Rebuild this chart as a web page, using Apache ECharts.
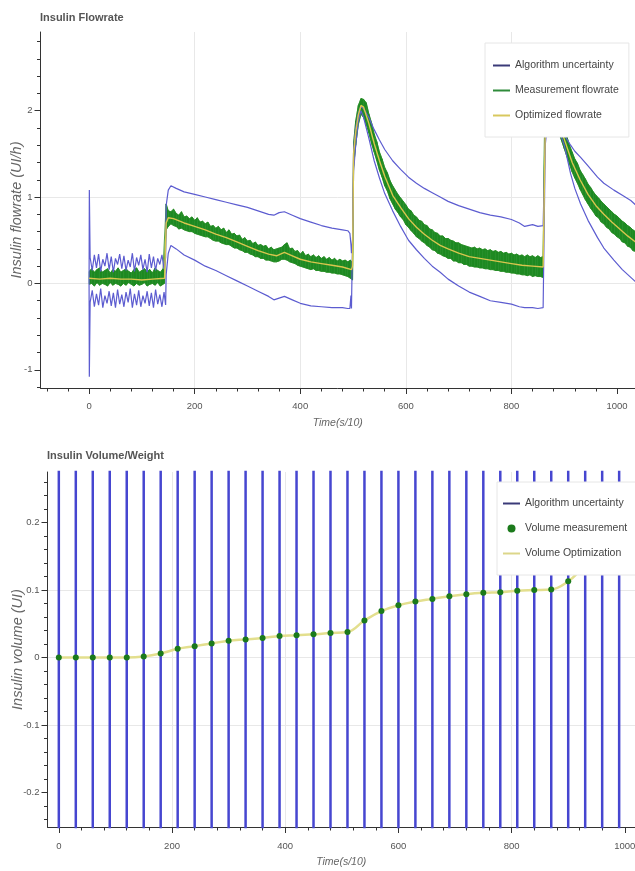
<!DOCTYPE html>
<html>
<head>
<meta charset="utf-8">
<title>Insulin Flowrate</title>
<script src="https://cdn.jsdelivr.net/npm/echarts@6.0.0/dist/echarts.min.js"></script>
<style>
  html, body { margin: 0; padding: 0; background: #fff; }
  #main { width: 635px; height: 871px; }
</style>
</head>
<body>
<div id="main"></div>
<script>
// ---- Insulin Flowrate (top) ----
// optimized flowrate
const optTime = [0, 20, 40, 60, 80, 100, 120, 143,
  146, 150, 160, 180, 200, 220, 240, 260, 280, 300, 320, 340, 355, 370, 385, 400, 420, 440, 460, 480, 497,
  499, 501, 505, 510, 515, 520, 530, 540, 550, 560, 575, 590, 605, 620, 635, 650, 665, 680, 700, 720, 740, 760, 780, 800, 820, 840, 860,
  862, 864, 868, 875, 880, 890, 900, 915, 930, 945, 960, 975, 990, 1005, 1020, 1035]
const optFlow = [0.06, 0.05, 0.06, 0.05, 0.05, 0.04, 0.05, 0.06,
  0.70, 0.76, 0.75, 0.70, 0.66, 0.62, 0.57, 0.53, 0.48, 0.43, 0.38, 0.34, 0.32, 0.36, 0.32, 0.28, 0.25, 0.23, 0.21, 0.19, 0.16,
  0.20, 1.50, 1.75, 1.95, 2.06, 2.04, 1.85, 1.62, 1.42, 1.24, 1.02, 0.88, 0.75, 0.65, 0.57, 0.50, 0.44, 0.40, 0.35, 0.31, 0.29, 0.27, 0.25, 0.23, 0.21, 0.20, 0.19,
  0.20, 1.80, 2.05, 2.10, 2.05, 1.85, 1.67, 1.40, 1.20, 1.03, 0.90, 0.80, 0.71, 0.63, 0.55, 0.48]

// algorithm uncertainty (upper / lower bound)
const uncTime = [0, 0.5,
  2, 6, 10, 14, 18, 22, 26, 30, 34, 38, 42, 46, 50, 54, 58, 62, 66, 70, 74, 78, 82, 86, 90, 94, 98, 102, 106, 110, 114, 118, 122, 126, 130, 134, 138, 142, 145,
  146, 150, 155, 165, 180, 200, 220, 240, 260, 280, 300, 320, 340, 350, 360, 370, 385, 400, 420, 440, 460, 480, 490, 494, 496, 497, 499,
  501, 505, 510, 515, 520, 530, 540, 550, 560, 575, 590, 605, 620, 635, 650, 665, 680, 700, 720, 740, 760, 780, 800, 815, 825, 840, 850, 860,
  862, 864, 870, 878, 890, 900, 912, 920, 931, 945, 963, 975, 994, 1010, 1026, 1035]
const uncUpper = [0.0, 1.08,
  0.30, 0.15, 0.33, 0.18, 0.34, 0.14, 0.28, 0.20, 0.35, 0.16, 0.31, 0.13, 0.29, 0.22, 0.34, 0.17, 0.32, 0.15, 0.27, 0.19, 0.35, 0.14, 0.30, 0.21, 0.33, 0.16, 0.28, 0.13, 0.34, 0.18, 0.31, 0.15, 0.29, 0.22, 0.33, 0.17, 0.30,
  0.90, 1.08, 1.13, 1.10, 1.06, 1.03, 1.00, 0.97, 0.94, 0.91, 0.88, 0.84, 0.80, 0.79, 0.82, 0.83, 0.79, 0.75, 0.71, 0.67, 0.64, 0.62, 0.61, 0.58, 0.45, 0.35, 0.50,
  1.55, 1.80, 1.97, 2.05, 2.02, 1.92, 1.78, 1.66, 1.55, 1.42, 1.32, 1.23, 1.16, 1.10, 1.05, 1.00, 0.95, 0.90, 0.86, 0.82, 0.79, 0.77, 0.74, 0.70, 0.66, 0.68, 0.66, 0.67,
  0.66, 1.70, 2.02, 2.06, 1.88, 1.72, 1.60, 1.53, 1.46, 1.36, 1.23, 1.16, 1.08, 1.02, 0.96, 0.91]
const uncLower = [0.0, -1.08,
  -0.22, -0.08, -0.27, -0.12, -0.25, -0.06, -0.28, -0.14, -0.23, -0.09, -0.26, -0.11, -0.28, -0.07, -0.24, -0.13, -0.27, -0.10, -0.22, -0.06, -0.28, -0.12, -0.25, -0.08, -0.27, -0.14, -0.23, -0.09, -0.26, -0.11, -0.28, -0.07, -0.24, -0.13, -0.27, -0.10, -0.25,
  0.10, 0.35, 0.44, 0.40, 0.33, 0.27, 0.20, 0.15, 0.09, 0.03, -0.03, -0.09, -0.15, -0.19, -0.17, -0.15, -0.19, -0.23, -0.26, -0.27, -0.28, -0.28, -0.29, -0.29, -0.14, -0.29, -0.30,
  1.30, 1.60, 1.88, 2.00, 1.92, 1.68, 1.42, 1.22, 1.04, 0.84, 0.66, 0.50, 0.39, 0.29, 0.20, 0.13, 0.05, -0.03, -0.10, -0.15, -0.20, -0.22, -0.24, -0.27, -0.28, -0.28, -0.29, -0.28,
  -0.28, 1.60, 1.98, 2.00, 1.78, 1.60, 1.27, 1.10, 0.92, 0.73, 0.53, 0.41, 0.27, 0.16, 0.07, 0.02]

// measurement flowrate, noisy band: lower and upper edge
const measTime = [0, 5, 10, 15, 20, 25, 30, 35, 40, 45, 50, 55, 60, 65, 70, 75, 80, 85, 90, 95, 100, 105, 110, 115, 120, 125, 130, 135, 140, 143,
  146, 150, 155, 160, 165, 170, 175, 180, 185, 190, 195, 200, 205, 210, 215, 220, 225, 230, 235, 240, 245, 250, 255, 260, 265, 270, 275, 280, 285, 290, 295,
  300, 305, 310, 315, 320, 325, 330, 335, 340, 345, 350, 355, 360, 365, 370, 375, 380, 385, 390, 395, 400, 405, 410, 415, 420, 425, 430, 435, 440, 445,
  450, 455, 460, 465, 470, 475, 480, 485, 490, 495, 499,
  501, 505, 510, 515, 520, 525, 530, 535, 540, 545, 550, 555, 560, 565, 570, 575, 580, 585, 590, 595, 600, 605, 610, 615, 620, 625, 630, 635, 640, 645, 650,
  655, 660, 665, 670, 675, 680, 685, 690, 695, 700, 705, 710, 715, 720, 725, 730, 735, 740, 745, 750, 755, 760, 765, 770, 775, 780, 785, 790, 795, 800,
  805, 810, 815, 820, 825, 830, 835, 840, 845, 850, 855, 860,
  863, 865, 870, 875, 880, 885, 890, 895, 900, 905, 910, 915, 920, 925, 930, 935, 940, 945, 950, 955, 960, 965, 970, 975, 980, 985, 990, 995, 1000,
  1005, 1010, 1015, 1020, 1025, 1030, 1035]
const measLow = [-0.01, 0.00, -0.03, 0.01, -0.02, 0.00, -0.01, -0.03, 0.01, -0.02, 0.00, -0.01, -0.03, 0.00, -0.02, 0.01, -0.01, -0.03, 0.00, -0.02, -0.01, 0.01, -0.03, -0.01, 0.00, -0.02, 0.01, -0.03, -0.01, 0.00,
  0.62, 0.66, 0.69, 0.67, 0.66, 0.63, 0.64, 0.62, 0.61, 0.60, 0.60, 0.58, 0.57, 0.56, 0.55, 0.54, 0.54, 0.52, 0.50, 0.49, 0.49, 0.47, 0.46, 0.45, 0.45, 0.43, 0.41, 0.41, 0.39, 0.38, 0.36,
  0.36, 0.34, 0.33, 0.31, 0.31, 0.29, 0.29, 0.27, 0.27, 0.26, 0.25, 0.25, 0.26, 0.28, 0.28, 0.27, 0.25, 0.24, 0.23, 0.21, 0.20, 0.19, 0.18, 0.17, 0.16, 0.17, 0.15, 0.15, 0.14, 0.14,
  0.13, 0.13, 0.12, 0.12, 0.11, 0.11, 0.10, 0.09, 0.08, 0.06, 0.04,
  1.35, 1.60, 1.84, 1.96, 1.92, 1.84, 1.74, 1.62, 1.52, 1.42, 1.31, 1.23, 1.13, 1.07, 0.98, 0.92, 0.86, 0.82, 0.77, 0.74, 0.68, 0.65, 0.61, 0.58, 0.54, 0.52, 0.49, 0.47, 0.44, 0.42, 0.39,
  0.38, 0.35, 0.34, 0.32, 0.31, 0.29, 0.29, 0.26, 0.26, 0.24, 0.24, 0.22, 0.22, 0.20, 0.20, 0.19, 0.19, 0.18, 0.18, 0.17, 0.17, 0.16, 0.16, 0.15, 0.15, 0.14, 0.14, 0.13, 0.13, 0.12,
  0.12, 0.11, 0.11, 0.10, 0.10, 0.09, 0.10, 0.08, 0.09, 0.08, 0.08, 0.07,
  1.70, 1.82, 1.96, 1.98, 1.94, 1.84, 1.74, 1.65, 1.56, 1.47, 1.38, 1.29, 1.22, 1.16, 1.09, 1.03, 0.97, 0.92, 0.87, 0.83, 0.78, 0.76, 0.71, 0.69, 0.65, 0.63, 0.59, 0.57, 0.54,
  0.52, 0.48, 0.47, 0.43, 0.42, 0.38, 0.37]
const measHigh = [0.14, 0.17, 0.13, 0.16, 0.18, 0.13, 0.15, 0.17, 0.12, 0.16, 0.14, 0.18, 0.13, 0.15, 0.17, 0.14, 0.12, 0.16, 0.18, 0.13, 0.15, 0.17, 0.14, 0.16, 0.12, 0.18, 0.15, 0.13, 0.17, 0.15,
  0.92, 0.84, 0.83, 0.86, 0.81, 0.79, 0.83, 0.77, 0.78, 0.75, 0.77, 0.73, 0.76, 0.71, 0.72, 0.69, 0.71, 0.66, 0.67, 0.64, 0.66, 0.62, 0.64, 0.59, 0.62, 0.57, 0.58, 0.55, 0.56, 0.51, 0.53,
  0.49, 0.50, 0.46, 0.48, 0.44, 0.45, 0.43, 0.44, 0.40, 0.42, 0.39, 0.40, 0.41, 0.42, 0.45, 0.47, 0.40, 0.41, 0.37, 0.38, 0.34, 0.37, 0.32, 0.34, 0.31, 0.33, 0.30, 0.32, 0.29, 0.31,
  0.28, 0.30, 0.27, 0.29, 0.26, 0.28, 0.26, 0.27, 0.25, 0.27, 0.24,
  1.62, 1.88, 2.06, 2.14, 2.13, 2.09, 1.96, 1.86, 1.73, 1.64, 1.52, 1.44, 1.34, 1.28, 1.19, 1.13, 1.08, 1.03, 0.99, 0.95, 0.91, 0.86, 0.84, 0.79, 0.77, 0.73, 0.72, 0.68, 0.67, 0.63, 0.62,
  0.59, 0.58, 0.55, 0.55, 0.52, 0.52, 0.50, 0.49, 0.47, 0.47, 0.45, 0.44, 0.43, 0.42, 0.41, 0.42, 0.40, 0.41, 0.39, 0.40, 0.38, 0.39, 0.37, 0.38, 0.36, 0.37, 0.35, 0.36, 0.34, 0.35,
  0.33, 0.34, 0.32, 0.33, 0.31, 0.33, 0.31, 0.32, 0.30, 0.32, 0.30, 0.31,
  1.98, 2.05, 2.18, 2.20, 2.16, 2.06, 1.96, 1.88, 1.78, 1.70, 1.60, 1.52, 1.44, 1.39, 1.31, 1.26, 1.21, 1.15, 1.11, 1.06, 1.02, 0.99, 0.95, 0.92, 0.89, 0.86, 0.83, 0.80, 0.78,
  0.75, 0.72, 0.70, 0.67, 0.65, 0.62, 0.60]

const flowXTicks = [0, 200, 400, 600, 800, 1000]
const flowYTicks = [-1, 0, 1, 2]

// ---- Insulin Volume/Weight (bottom) ----
const volLineTime = [0, 30, 60, 90, 120, 150, 180, 210, 240, 270, 300, 330, 360, 390, 420, 450, 480, 510, 540, 570, 600, 630, 660, 690, 720, 750, 780, 810, 840, 870, 900, 930, 960, 990]
const volUncRange = [-0.3, 0.3]
const volMeasTime = [0, 30, 60, 90, 120, 150, 180, 210, 240, 270, 300, 330, 360, 390, 420, 450, 480, 510, 540, 570, 600, 630, 660, 690, 720, 750, 780, 810, 840, 870, 900]
const volMeas = [0, 0, 0, 0, 0, 0.0015, 0.006, 0.013, 0.017, 0.021, 0.025, 0.027, 0.029, 0.032, 0.033, 0.0345, 0.0365, 0.038, 0.055, 0.069, 0.0775, 0.083, 0.087, 0.091, 0.094, 0.096, 0.097, 0.099, 0.100, 0.101, 0.113]
const volOptTime = [0, 30, 60, 90, 120, 150, 180, 210, 240, 270, 300, 330, 360, 390, 420, 450, 480, 510, 540, 570, 600, 630, 660, 690, 720, 750, 780, 810, 840, 870, 900, 930, 960, 990]
const volOpt = [0, 0, 0, 0, 0, 0.0015, 0.006, 0.013, 0.017, 0.021, 0.025, 0.027, 0.029, 0.032, 0.033, 0.0345, 0.0365, 0.038, 0.055, 0.069, 0.0775, 0.083, 0.087, 0.091, 0.094, 0.096, 0.097, 0.099, 0.100, 0.101, 0.113, 0.135, 0.145, 0.150]

const volXTicks = [0, 200, 400, 600, 800, 1000]
const volYTicks = [-0.2, -0.1, 0, 0.1, 0.2]

const FONT = "'Liberation Sans', Arial, sans-serif"
const AXIS_COLOR = '#333'
const LABEL_COLOR = '#555'
const LINE_ICON = 'path://M0,0H17V2H0Z'

const pairs = (xs, ys) => xs.map((x, i) => [x, ys[i]])

// minor tick positions between the labelled ones
function minorTicks(from, to, step, major) {
  const out = []
  for (let k = 0; from + k * step <= to + 1e-9; k++) {
    const v = Math.round((from + k * step) * 1000) / 1000
    const q = v / major
    if (Math.abs(q - Math.round(q)) > 1e-6) out.push(v)
  }
  return out
}

function mainAxis(gridIndex, min, max, ticks, margin, extra) {
  return Object.assign({
    gridIndex: gridIndex,
    type: 'value',
    min: min,
    max: max,
    nameMoveOverlap: false,
    axisLine: {show: true, onZero: false, lineStyle: {color: AXIS_COLOR, width: 1}},
    axisTick: {show: true, customValues: ticks, length: 6, lineStyle: {color: AXIS_COLOR}},
    axisLabel: {customValues: ticks, margin: margin, color: LABEL_COLOR, fontFamily: FONT, fontSize: 9.5, formatter: v => String(v)},
    splitLine: {show: true, showMinLine: false, showMaxLine: false, lineStyle: {color: '#e8e8e8', width: 1}}
  }, extra)
}

function minorAxis(gridIndex, min, max, ticks, position) {
  return {
    gridIndex: gridIndex,
    type: 'value',
    position: position,
    min: min,
    max: max,
    axisLine: {show: false, onZero: false},
    axisTick: {show: true, customValues: ticks, length: 3.5, lineStyle: {color: AXIS_COLOR}},
    axisLabel: {show: false},
    splitLine: {show: false}
  }
}

const xNameStyle = {fontFamily: FONT, fontStyle: 'italic', fontSize: 10.5, color: '#666'}
const yNameStyle = {fontFamily: FONT, fontStyle: 'italic', fontSize: 14.5, color: '#666'}

// band segments of the measurement: [t0, low0, high0, t1, low1, high1]
const measSegs = measTime.slice(1).map((t, i) => [measTime[i], measLow[i], measHigh[i], t, measLow[i + 1], measHigh[i + 1]])

// vertical uncertainty lines of the volume chart
const volUncData = []
volLineTime.forEach(t => {
  volUncData.push([t, volUncRange[0]], [t, volUncRange[1]], [t, null])
})

let myChart = echarts.init(document.getElementById('main'))

const legendBase = {
  orient: 'vertical', selectedMode: false, z: 10,
  itemWidth: 17, itemHeight: 8, itemGap: 14,
  backgroundColor: '#fff', borderColor: '#e6e6e6', borderWidth: 1,
  textStyle: {fontFamily: FONT, fontSize: 10.5, color: '#444'}
}

let option = {
  animation: false,
  backgroundColor: '#fff',
  textStyle: {fontFamily: FONT},
  title: [
    {text: 'Insulin Flowrate', left: 40, top: 12, padding: 0,
      textStyle: {fontFamily: FONT, fontSize: 11, fontWeight: 'bold', color: '#555'}},
    {text: 'Insulin Volume/Weight', left: 47, top: 450, padding: 0,
      textStyle: {fontFamily: FONT, fontSize: 11, fontWeight: 'bold', color: '#555'}}
  ],
  grid: [
    {left: 40.5, top: 32, right: 0, bottom: 483, outerBoundsMode: 'none'},
    {left: 47.5, top: 472, right: 0, bottom: 44, outerBoundsMode: 'none'}
  ],
  xAxis: [
    mainAxis(0, -92, 1034, flowXTicks, 13, {position: 'bottom', name: 'Time(s/10)', nameLocation: 'middle', nameGap: 30, nameTextStyle: xNameStyle}),
    minorAxis(0, -92, 1034, minorTicks(-80, 1034, 40, 200), 'bottom'),
    mainAxis(1, -20, 1018, volXTicks, 14, {position: 'bottom', name: 'Time(s/10)', nameLocation: 'middle', nameGap: 30, nameTextStyle: xNameStyle}),
    minorAxis(1, -20, 1018, minorTicks(40, 1018, 40, 200), 'bottom')
  ],
  yAxis: [
    mainAxis(0, -1.21, 2.91, flowYTicks, 8, {position: 'left', name: 'Insulin flowrate (UI/h)', nameLocation: 'middle', nameGap: 16.5, nameTextStyle: yNameStyle}),
    minorAxis(0, -1.21, 2.91, minorTicks(-1.2, 2.91, 0.2, 1), 'left'),
    mainAxis(1, -0.251, 0.275, volYTicks, 8, {position: 'left', name: 'Insulin volume (UI)', nameLocation: 'middle', nameGap: 22.5, nameTextStyle: yNameStyle}),
    minorAxis(1, -0.251, 0.275, minorTicks(-0.24, 0.275, 0.02, 0.1), 'left')
  ],
  legend: [
    Object.assign({}, legendBase, {
      left: 485, top: 43, padding: [17, 10, 16, 8],
      data: [
        {name: 'Algorithm uncertainty', icon: LINE_ICON, itemStyle: {color: '#3a3a78'}},
        {name: 'Measurement flowrate', icon: LINE_ICON, itemStyle: {color: '#2e8b3a'}},
        {name: 'Optimized flowrate', icon: LINE_ICON, itemStyle: {color: '#d8c85e'}}
      ]
    }),
    Object.assign({}, legendBase, {
      left: 497, top: 482, padding: [16, 10, 16, 6],
      data: [
        {name: 'Algorithm uncertainty', icon: LINE_ICON, itemStyle: {color: '#3a3a78'}},
        {name: 'Volume measurement', icon: 'circle', itemStyle: {color: '#1b7a1b'}},
        {name: 'Volume Optimization', icon: LINE_ICON, itemStyle: {color: '#dcd68a'}}
      ]
    })
  ],
  series: [
    // light fringe of the measurement band
    {
      name: 'meas-low', type: 'line', xAxisIndex: 0, yAxisIndex: 0,
      symbol: 'none', silent: true, z: 1,
      data: pairs(measTime, measLow),
      lineStyle: {color: '#5aa64a', width: 1}
    },
    {
      name: 'meas-high', type: 'line', xAxisIndex: 0, yAxisIndex: 0,
      symbol: 'none', silent: true, z: 1,
      data: pairs(measTime, measHigh),
      lineStyle: {color: '#5aa64a', width: 1}
    },
    // measurement band, one quad per sample step
    {
      name: 'Measurement flowrate', type: 'custom', xAxisIndex: 0, yAxisIndex: 0, z: 2,
      encode: {x: [0, 3], y: [1, 2, 4, 5]},
      data: measSegs,
      itemStyle: {color: '#1e8a22'},
      renderItem: (params, api) => {
        const p1 = api.coord([api.value(0), api.value(1)])
        const p2 = api.coord([api.value(0), api.value(2)])
        const p3 = api.coord([api.value(3), api.value(5)])
        const p4 = api.coord([api.value(3), api.value(4)])
        return {
          type: 'polygon',
          shape: {points: [p1, p2, p3, p4]},
          style: {fill: '#1e8a22', stroke: '#1e8a22', lineWidth: 0.6}
        }
      }
    },
    {
      name: 'Algorithm uncertainty', type: 'line', xAxisIndex: 0, yAxisIndex: 0,
      symbol: 'none', z: 3,
      data: pairs(uncTime, uncUpper),
      lineStyle: {color: '#5c5cd0', width: 1.2}
    },
    {
      name: 'Algorithm uncertainty', type: 'line', xAxisIndex: 0, yAxisIndex: 0,
      symbol: 'none', z: 3,
      data: pairs(uncTime, uncLower),
      lineStyle: {color: '#5c5cd0', width: 1.2}
    },
    {
      name: 'Optimized flowrate', type: 'line', xAxisIndex: 0, yAxisIndex: 0,
      symbol: 'none', z: 4,
      data: pairs(optTime, optFlow),
      lineStyle: {color: '#d9c64e', width: 1.4}
    },
    // volume chart
    {
      name: 'Algorithm uncertainty', type: 'line', xAxisIndex: 2, yAxisIndex: 2,
      symbol: 'none', z: 2, connectNulls: false,
      data: volUncData,
      lineStyle: {color: '#4646d0', width: 2.5}
    },
    {
      name: 'Volume Optimization', type: 'line', xAxisIndex: 2, yAxisIndex: 2,
      symbol: 'none', smooth: 0.4, z: 3,
      data: pairs(volOptTime, volOpt),
      lineStyle: {color: '#e3df8e', width: 2.5}
    },
    {
      name: 'Volume measurement', type: 'scatter', xAxisIndex: 2, yAxisIndex: 2,
      symbolSize: 6, z: 4,
      data: pairs(volMeasTime, volMeas),
      itemStyle: {color: '#1b7a1b', opacity: 1}
    }
  ]
}

myChart.setOption(option)
</script>
</body>
</html>
